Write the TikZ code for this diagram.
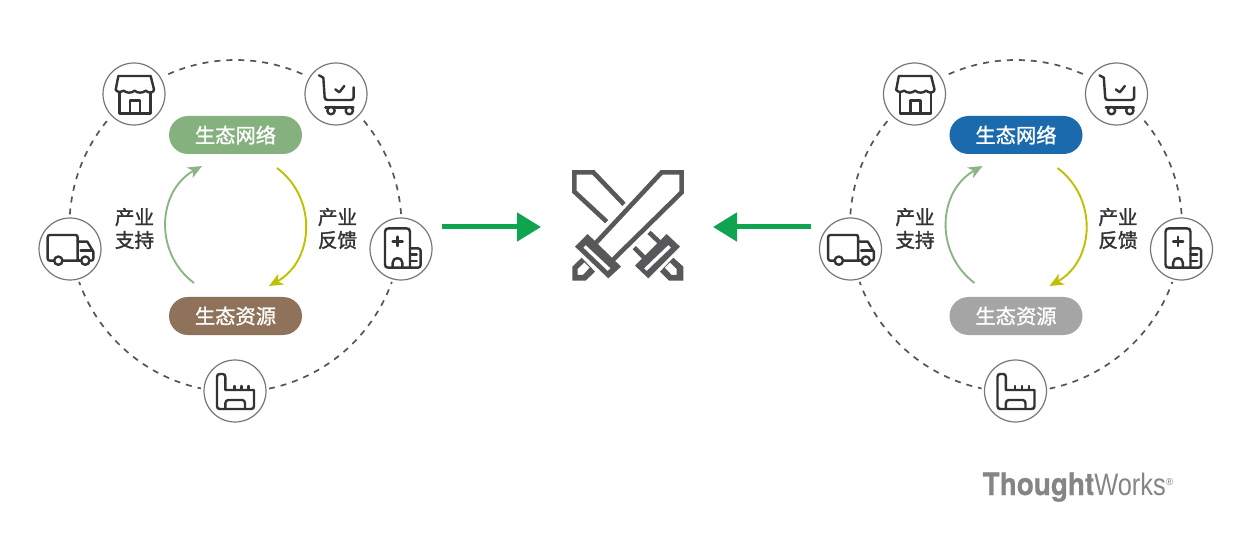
\documentclass[tikz,border=0pt]{standalone}
\usepackage{fontspec}
\usetikzlibrary{arrows.meta}
\newfontfamily\cjkpill[FakeBold=1.2]{Noto Sans CJK SC}
\newfontfamily\cjklabel[FakeBold=1.6]{Noto Sans CJK SC}
\newfontfamily\twbold[FakeBold=0.8]{TeX Gyre Heros Bold}
\newfontfamily\twlight{Liberation Sans}
\definecolor{pillgreen}{HTML}{85B17E}
\definecolor{pillbrown}{HTML}{8E725A}
\definecolor{pillblue}{HTML}{1A6AAD}
\definecolor{pillgray}{HTML}{A5A5A5}
\definecolor{arcgreen}{HTML}{8CB585}
\definecolor{arcyellow}{HTML}{BFC000}
\definecolor{ringgray}{HTML}{555555}
\definecolor{circgray}{HTML}{777777}
\definecolor{iconink}{HTML}{333333}
\definecolor{swordgray}{HTML}{58585A}
\definecolor{arrowgreen}{HTML}{0FA44F}
\definecolor{logogray}{HTML}{858585}
\tikzset{
  ringline/.style={circle,draw=ringgray,line width=1.7pt,dash pattern=on 6pt off 6pt,minimum size=332pt,inner sep=0pt},
  iconcirc/.style={circle,draw=circgray,line width=1.2pt,fill=white,minimum size=62pt,inner sep=0pt,preaction={draw=white,line width=6pt}},
  pill/.style={rounded corners=19pt,minimum width=133pt,minimum height=38pt,inner sep=0pt,text=white,font=\cjkpill\fontsize{20.3}{20}\selectfont},
  sidelabel/.style={align=center,text=iconink,font=\cjklabel\fontsize{19.6}{23}\selectfont,inner sep=0pt},
  icon/.style={draw=iconink,line width=2.4pt,line join=round,line cap=round},
  swordline/.style={draw=swordgray,line width=4.6pt,line join=miter},
  swordfill/.style={fill=swordgray,even odd rule},
  arcline/.style={line width=1.9pt,-{Stealth[length=14pt,width=12pt,inset=4pt]}},
  bigarrow/.style={draw=arrowgreen,line width=5pt,-{Triangle[length=24pt,width=28pt,fill=arrowgreen]}},
}
\newcommand{\iconstore}{\begin{scope}[shift={(30,50)},x=0.3333pt,y=-0.3333pt]
 \draw[icon] (265,78)--(362,78)--(372,118)--(370,124) .. controls (362,130) and (355,128) .. (347,122) .. controls (338,130) and (322,130) .. (314,122) .. controls (305,130) and (290,130) .. (281,122) .. controls (275,128) and (265,128) .. (257,120) -- cycle;
 \draw[icon] (268,128)--(268,190)--(362,190)--(362,128);
 \draw[icon] (300,190)--(300,152)--(330,152)--(330,190);
\end{scope}}
\newcommand{\iconcart}{\begin{scope}[shift={(280,50)},x=0.3333pt,y=-0.3333pt]
 \draw[icon] (117,76)--(130,83)--(134,142) .. controls (134,148) and (138,150) .. (144,150) -- (212,150) .. controls (218,150) and (221,147) .. (221,142) -- (221,112);
 \draw[icon] (166,118)--(178,127)--(193,108);
 \draw[icon] (136,172)--(220,172);
 \draw[icon,fill=white] (153,182) circle (11);
 \draw[icon,fill=white] (208,182) circle (11);
\end{scope}}
\newcommand{\icontruck}{\begin{scope}[shift={(30,210)},x=0.3333pt,y=-0.3333pt]
 \draw[icon] (72,152)--(60,152) .. controls (55,152) and (53,150) .. (53,145) -- (53,82) .. controls (53,77) and (55,75) .. (60,75) -- (136,75) .. controls (141,75) and (143,77) .. (143,82) -- (143,152) -- (100,152);
 \draw[icon] (143,95)--(172,95)--(190,125)--(190,145) .. controls (190,150) and (188,152) .. (182,152);
 \draw[icon] (143,152)--(150,152);
 \draw[icon] (152,122)--(188,122);
 \draw[icon] (85,152) circle (12.5);
 \draw[icon] (166,152) circle (12.5);
\end{scope}}
\newcommand{\iconhospital}{\begin{scope}[shift={(360,210)},x=0.3333pt,y=-0.3333pt]
 \draw[icon] (85,173) .. controls (78,173) and (75,170) .. (75,163) -- (75,66) .. controls (75,58) and (79,55) .. (86,55) -- (139,55) .. controls (146,55) and (150,58) .. (150,66) -- (150,173) -- cycle;
 \draw[icon] (98,95)--(128,95) (113,80)--(113,108);
 \draw[icon] (98,173)--(98,158) .. controls (98,140) and (127,140) .. (127,158) -- (127,173);
 \draw[icon] (150,115)--(174,115) .. controls (179,115) and (182,118) .. (182,123) -- (182,164) .. controls (182,170) and (179,173) .. (174,173) -- (150,173);
 \draw[icon] (150,134)--(170,134) (150,153)--(170,153);
\end{scope}}
\newcommand{\iconfactory}{\begin{scope}[shift={(190,355)},x=0.3333pt,y=-0.3333pt]
 \draw[icon] (90,162) .. controls (84,162) and (81,159) .. (81,153) -- (81,66) .. controls (81,60) and (84,57) .. (90,57) -- (98,57) .. controls (103,57) and (106,60) .. (106,66) -- (106,105) -- (192,105) -- (192,153) .. controls (192,159) and (189,162) .. (183,162) -- cycle;
 \draw[icon] (133,105)--(133,93) (155,105)--(155,93) (175,105)--(175,93);
 \draw[icon] (106,162)--(106,145) .. controls (106,138) and (110,135) .. (116,135) -- (156,135) .. controls (162,135) and (165,138) .. (165,145) -- (165,162);
\end{scope}}
\begin{document}
\begin{tikzpicture}[x=1pt,y=-1pt]
\useasboundingbox (0,0) rectangle (1251,548);
\foreach \p/\dx/\ctop/\cbot/\lab in {L/0/pillgreen/pillbrown/x, R/780.5/pillblue/pillgray/y}{
 \begin{scope}[shift={(\dx,0)}]
  \node[ringline] (\p ring) at (235.5,226) {};
  \node[iconcirc] (\p store) at (134,94) {};
  \node[iconcirc] (\p cart) at (336,94) {};
  \node[iconcirc] (\p truck) at (70,249) {};
  \node[iconcirc] (\p hosp) at (401,249) {};
  \node[iconcirc] (\p fact) at (235,391) {};
  \iconstore \iconcart \icontruck \iconhospital \iconfactory
  \node[pill,fill=\ctop] (\p net) at (235.5,135) {生态网络};
  \node[pill,fill=\cbot] (\p res) at (235.5,316) {生态资源};
  \node[sidelabel] (\p support) at (134.5,228.5) {产业\\支持};
  \node[sidelabel] (\p feedback) at (337.5,228.5) {产业\\反馈};
  \coordinate (\p a) at (194,283);
  \coordinate (\p b) at (202,166);
  \coordinate (\p c) at (277,168);
  \coordinate (\p d) at (269,286);
  \draw[arcgreen,arcline] (\p a) to[bend left=57,looseness=1.11] (\p b);
  \draw[arcyellow,arcline] (\p c) to[bend left=57,looseness=1.11] (\p d);
 \end{scope}
}
\coordinate (inL) at (442,227);
\coordinate (tipL) at (541,227);
\coordinate (inR) at (811,227);
\coordinate (tipR) at (713,227);
\draw[bigarrow] (inL) -- (tipL);
\draw[bigarrow] (inR) -- (tipR);
\begin{scope}[shift={(565,225)},x=0.3333pt,y=-0.3333pt]
 % big sword blade
 \draw[swordline] (85,62)--(290,-158)--(350,-158)--(350,-98)--(130,118);
 % big sword guard and hilt
 \fill[swordfill] (68,27)--(30,65)--(130,160)--(168,125)--cycle
   (62,60)--(55,68)--(128,138)--(137,130)--cycle;
 \fill[swordfill] (50,98)--(22,125)--(22,167)--(62,167)--(90,140)--cycle
   (38,132)--(58,112)--(74,128)--(54,150)--(38,150)--cycle;
 % small sword blade
 \draw[swordline] (177,-62)--(85,-158)--(28,-158)--(28,-100)--(125,-10);
 % small sword stubs
 \draw[swordline] (252,22)--(292,60);
 \draw[swordline] (208,68)--(248,108);
 % small sword guard and hilt
 \fill[swordfill] (305,27)--(345,65)--(250,160)--(210,122)--cycle
   (310,60)--(318,68)--(245,138)--(237,130)--cycle;
 \fill[swordfill] (325,98)--(355,125)--(355,167)--(312,167)--(285,140)--cycle
   (335,132)--(315,112)--(299,128)--(320,150)--(335,150)--cycle;
\end{scope}
\node[anchor=base west,inner sep=0pt,text=logogray] (logo) at (982.5,495) {\twbold\fontsize{31}{31}\selectfont\scalebox{0.9}[1]{Thought}\twlight\fontsize{31}{31}\selectfont\scalebox{0.82}[1]{Works}\raisebox{10pt}{\fontsize{10}{10}\selectfont ®}};
\end{tikzpicture}
\end{document}
